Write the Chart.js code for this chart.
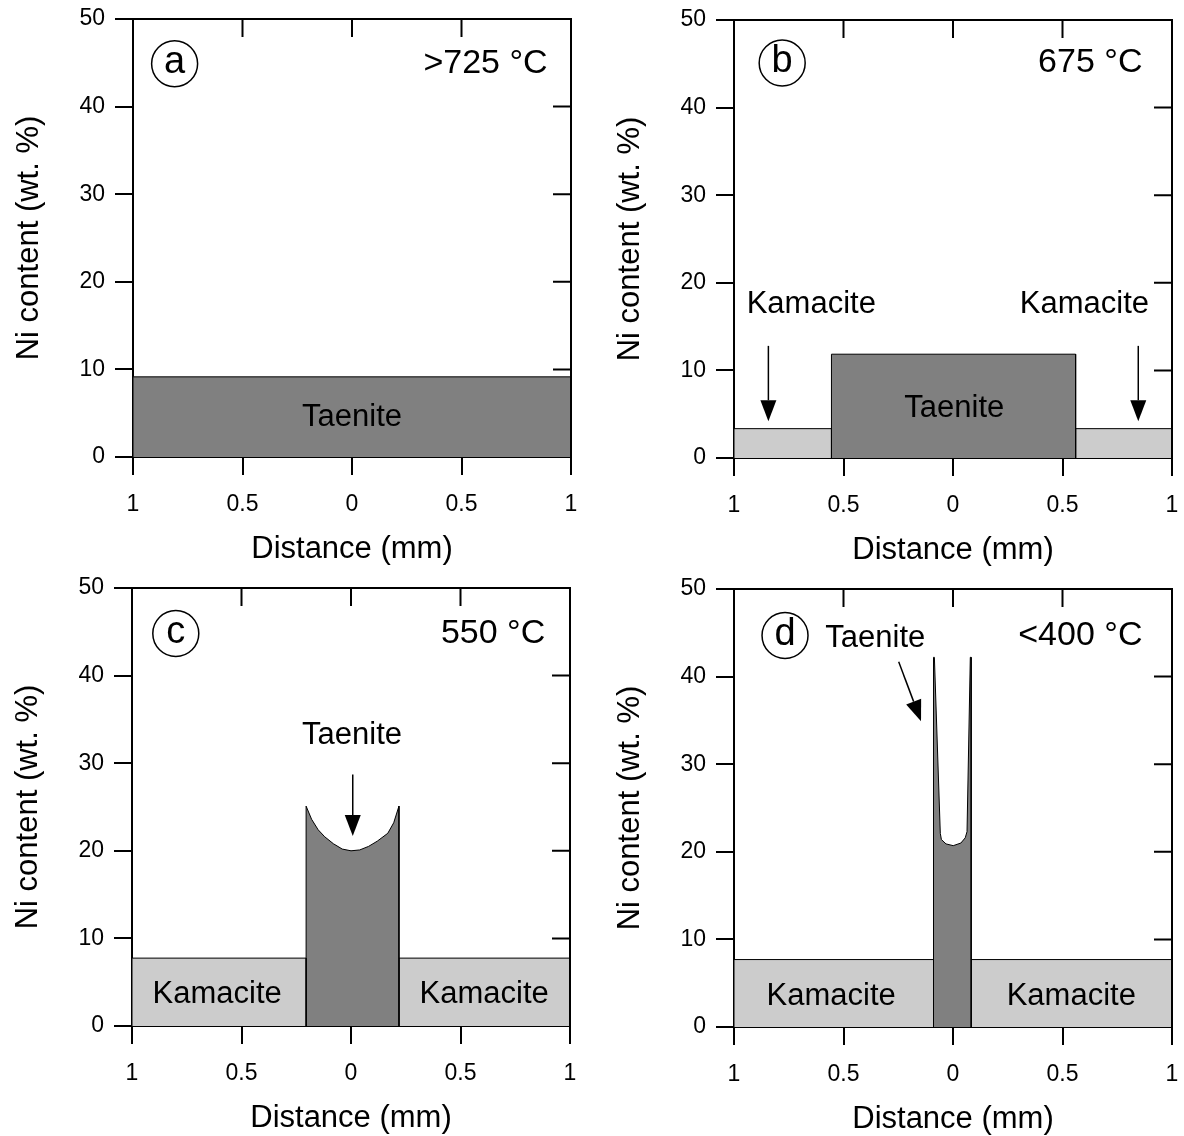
<!DOCTYPE html>
<html>
<head>
<meta charset="utf-8">
<script src="https://cdn.jsdelivr.net/npm/chart.js@4.4.1/dist/chart.umd.min.js"></script>
<style>
html, body { margin: 0; padding: 0; background: #fff; overflow: hidden; }
body { width: 1184px; height: 1136px; position: relative; }
canvas { position: absolute; }
</style>
</head>
<body>
<canvas id="chartA" width="580" height="562" style="left:3px;top:3px"></canvas>
<canvas id="chartB" width="580" height="562" style="left:604px;top:4px"></canvas>
<canvas id="chartC" width="580" height="562" style="left:2px;top:572px"></canvas>
<canvas id="chartD" width="580" height="562" style="left:604px;top:573px"></canvas>
<script>
// axes
const xTickValues = [-1, -0.5, 0, 0.5, 1];
const xTickLabels = ['1', '0.5', '0', '0.5', '1'];
const yTickValues = [0, 10, 20, 30, 40, 50];
const yTickLabels = ['0', '10', '20', '30', '40', '50'];

// (a) >725 °C
const taeniteA_x = [-1, -1, 1, 1];
const taeniteA_y = [0, 9.15, 9.15, 0];

// (b) 675 °C
const kamaciteB1_x = [-1, -1, -0.555, -0.555];
const kamaciteB1_y = [0, 3.35, 3.35, 0];
const taeniteB_x = [-0.555, -0.555, 0.56, 0.56];
const taeniteB_y = [0, 11.85, 11.85, 0];
const kamaciteB2_x = [0.56, 0.56, 1, 1];
const kamaciteB2_y = [0, 3.35, 3.35, 0];

// (c) 550 °C
const kamaciteC1_x = [-1, -1, -0.205, -0.205];
const kamaciteC1_y = [0, 7.75, 7.75, 0];
const taeniteC_x = [-0.205, -0.205, -0.18, -0.15, -0.12, -0.08, -0.04, 0, 0.04, 0.08, 0.12, 0.168, 0.195, 0.219, 0.219];
const taeniteC_y = [0, 25.1, 23.6, 22.4, 21.6, 20.8, 20.2, 20.0, 20.1, 20.5, 21.1, 22.0, 23.2, 25.1, 0];
const kamaciteC2_x = [0.219, 0.219, 1, 1];
const kamaciteC2_y = [0, 7.75, 7.75, 0];

// (d) <400 °C
const kamaciteD1_x = [-1, -1, -0.089, -0.089];
const kamaciteD1_y = [0, 7.7, 7.7, 0];
const taeniteD_x = [-0.089, -0.089, -0.085, -0.058, -0.053, -0.032, 0.001, 0.036, 0.056, 0.064, 0.079, 0.083, 0.083];
const taeniteD_y = [0, 42.2, 42.2, 22.1, 21.4, 20.9, 20.7, 21.0, 21.6, 22.3, 42.2, 42.2, 0];
const kamaciteD2_x = [0.083, 0.083, 1, 1];
const kamaciteD2_y = [0, 7.7, 7.7, 0];

const TAENITE = '#808080';
const KAMACITE = '#cccccc';
const FONT = '"Liberation Sans", Arial, Helvetica, sans-serif';

function zone(xs, ys, color) {
    return {
        data: xs.map((x, i) => ({ x: x, y: ys[i] })),
        backgroundColor: color,
        borderColor: '#000',
        borderWidth: 1,
        fill: 'origin',
        pointRadius: 0,
        tension: 0
    };
}

function drawArrow(ctx, x1, y1, x2, y2) {
    const ang = Math.atan2(y2 - y1, x2 - x1);
    const hl = 21, hw = 8;
    const bx = x2 - hl * Math.cos(ang), by = y2 - hl * Math.sin(ang);
    ctx.beginPath();
    ctx.moveTo(x1, y1);
    ctx.lineTo(bx, by);
    ctx.lineWidth = 1.5;
    ctx.strokeStyle = '#000';
    ctx.stroke();
    ctx.beginPath();
    ctx.moveTo(x2, y2);
    ctx.lineTo(bx + hw * Math.sin(ang), by - hw * Math.cos(ang));
    ctx.lineTo(bx - hw * Math.sin(ang), by + hw * Math.cos(ang));
    ctx.closePath();
    ctx.fillStyle = '#000';
    ctx.fill();
}

// frame, inward ticks and the text/arrow notes
const notesPlugin = {
    id: 'notes',
    afterDraw(chart) {
        const ctx = chart.ctx;
        const area = chart.chartArea;
        const sx = chart.scales.x, sy = chart.scales.y;
        const notes = chart.options.plugins.notes;
        ctx.save();
        ctx.strokeStyle = '#000';
        ctx.lineWidth = 2;
        ctx.beginPath();
        ctx.moveTo(area.left - 1, area.top);
        ctx.lineTo(area.right, area.top);
        ctx.lineTo(area.right, area.bottom);
        ctx.stroke();
        ctx.beginPath();
        [-0.5, 0, 0.5].forEach(v => {
            const px = sx.getPixelForValue(v);
            ctx.moveTo(px, area.top);
            ctx.lineTo(px, area.top + 18);
        });
        [10, 20, 30, 40].forEach(v => {
            const py = sy.getPixelForValue(v);
            ctx.moveTo(area.right, py);
            ctx.lineTo(area.right - 18, py);
        });
        ctx.stroke();

        // panel letter in circle
        const cx = sx.getPixelForValue(notes.letter.x), cy = sy.getPixelForValue(notes.letter.y);
        ctx.beginPath();
        ctx.arc(cx, cy, 23, 0, Math.PI * 2);
        ctx.lineWidth = 1.5;
        ctx.stroke();
        ctx.fillStyle = '#000';
        ctx.textBaseline = 'middle';
        ctx.textAlign = 'center';
        ctx.font = '38px ' + FONT;
        ctx.fillText(notes.letter.text, cx, cy - 1);

        // temperature
        ctx.textAlign = 'right';
        ctx.font = '34px ' + FONT;
        ctx.fillText(notes.temp.text, sx.getPixelForValue(notes.temp.x), sy.getPixelForValue(notes.temp.y));

        // phase labels
        ctx.textAlign = 'center';
        ctx.font = '31px ' + FONT;
        notes.labels.forEach(l => {
            ctx.fillText(l.text, sx.getPixelForValue(l.x), sy.getPixelForValue(l.y));
        });
        notes.arrows.forEach(a => {
            drawArrow(ctx, sx.getPixelForValue(a.x1), sy.getPixelForValue(a.y1),
                sx.getPixelForValue(a.x2), sy.getPixelForValue(a.y2));
        });
        ctx.restore();
    }
};

function noPad(s) {
    s.paddingLeft = 0;
    s.paddingRight = 0;
    s.paddingTop = 0;
    s.paddingBottom = 0;
}

function makePanel(id, datasets, notes) {
    const gridOpts = { drawOnChartArea: false, drawTicks: true, tickLength: 18, color: '#000', lineWidth: 2 };
    const borderOpts = { display: true, color: '#000', width: 2 };
    return new Chart(document.getElementById(id), {
        type: 'line',
        data: { datasets: datasets },
        plugins: [notesPlugin],
        options: {
            responsive: false,
            animation: false,
            layout: { padding: { left: 0, top: 16, right: 12, bottom: 0 } },
            plugins: {
                legend: { display: false },
                tooltip: { enabled: false },
                notes: notes
            },
            scales: {
                x: {
                    type: 'linear',
                    min: -1,
                    max: 1,
                    afterFit: s => { s.height = 108; noPad(s); },
                    afterBuildTicks: s => { s.ticks = xTickValues.map(v => ({ value: v })); },
                    ticks: {
                        callback: (v, i) => xTickLabels[i],
                        color: '#000',
                        font: { family: FONT, size: 23 },
                        padding: 16,
                        maxRotation: 0,
                        autoSkip: false
                    },
                    grid: gridOpts,
                    border: borderOpts,
                    title: {
                        display: true,
                        text: 'Distance (mm)',
                        color: '#000',
                        font: { family: FONT, size: 31, lineHeight: 1 },
                        padding: { top: 0, bottom: 0 }
                    }
                },
                y: {
                    min: 0,
                    max: 50,
                    afterFit: s => { s.width = 130; noPad(s); },
                    afterBuildTicks: s => { s.ticks = yTickValues.map(v => ({ value: v })); },
                    ticks: {
                        callback: (v, i) => yTickLabels[i],
                        color: '#000',
                        font: { family: FONT, size: 23 },
                        padding: 10
                    },
                    grid: gridOpts,
                    border: borderOpts,
                    title: {
                        display: true,
                        text: 'Ni content (wt. %)',
                        color: '#000',
                        font: { family: FONT, size: 31, lineHeight: 1 },
                        padding: { top: 11, bottom: 0 }
                    }
                }
            }
        }
    });
}

makePanel('chartA', [zone(taeniteA_x, taeniteA_y, TAENITE)], {
    letter: { text: 'a', x: -0.81, y: 44.9 },
    temp: { text: '>725 °C', x: 0.893, y: 44.9 },
    labels: [{ text: 'Taenite', x: 0, y: 4.5 }],
    arrows: []
});

makePanel('chartB', [
    zone(kamaciteB1_x, kamaciteB1_y, KAMACITE),
    zone(taeniteB_x, taeniteB_y, TAENITE),
    zone(kamaciteB2_x, kamaciteB2_y, KAMACITE)
], {
    letter: { text: 'b', x: -0.78, y: 45.1 },
    temp: { text: '675 °C', x: 0.865, y: 45.1 },
    labels: [
        { text: 'Taenite', x: 0.006, y: 5.6 },
        { text: 'Kamacite', x: -0.647, y: 17.5 },
        { text: 'Kamacite', x: 0.6, y: 17.5 }
    ],
    arrows: [
        { x1: -0.843, y1: 12.8, x2: -0.843, y2: 4.2 },
        { x1: 0.846, y1: 12.8, x2: 0.846, y2: 4.2 }
    ]
});

makePanel('chartC', [
    zone(kamaciteC1_x, kamaciteC1_y, KAMACITE),
    zone(taeniteC_x, taeniteC_y, TAENITE),
    zone(kamaciteC2_x, kamaciteC2_y, KAMACITE)
], {
    letter: { text: 'c', x: -0.8, y: 44.8 },
    temp: { text: '550 °C', x: 0.887, y: 44.8 },
    labels: [
        { text: 'Taenite', x: 0.005, y: 33.2 },
        { text: 'Kamacite', x: -0.611, y: 3.6 },
        { text: 'Kamacite', x: 0.608, y: 3.6 }
    ],
    arrows: [{ x1: 0.008, y1: 28.7, x2: 0.008, y2: 21.7 }]
});

makePanel('chartD', [
    zone(kamaciteD1_x, kamaciteD1_y, KAMACITE),
    zone(taeniteD_x, taeniteD_y, TAENITE),
    zone(kamaciteD2_x, kamaciteD2_y, KAMACITE)
], {
    letter: { text: 'd', x: -0.767, y: 44.7 },
    temp: { text: '<400 °C', x: 0.865, y: 44.7 },
    labels: [
        { text: 'Taenite', x: -0.355, y: 44.4 },
        { text: 'Kamacite', x: -0.556, y: 3.5 },
        { text: 'Kamacite', x: 0.54, y: 3.5 }
    ],
    arrows: [{ x1: -0.248, y1: 41.7, x2: -0.146, y2: 34.9 }]
});
</script>
</body>
</html>
